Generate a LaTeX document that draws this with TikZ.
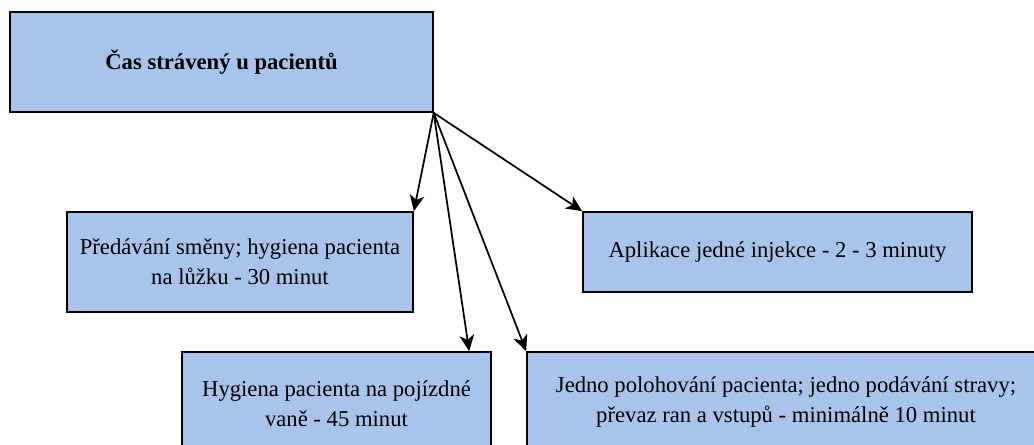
\documentclass[tikz,border=0pt]{standalone}
\usepackage{fontspec}
\setmainfont{Liberation Serif}
\usetikzlibrary{arrows.meta}
\definecolor{boxblue}{RGB}{169,196,234}
\tikzset{
  box/.style={draw=black, line width=1.3pt, fill=boxblue, align=center,
    inner sep=0pt, font=\fontsize{17}{22.5}\selectfont},
  link/.style={-{Stealth[length=12pt,width=11pt,inset=3.5pt]}, line width=1.3pt}
}

\begin{document}
\begin{tikzpicture}[x=0.75pt,y=-0.75pt]
			\path[use as bounding box, clip] (0,0) rectangle (1034,445);
			
			% top box
			\node[box, minimum width=317pt, minimum height=75pt] (cas) at (221.5,62)
				{\textbf{Čas strávený u pacientů}};
			
			% the four activities
			\node[box, minimum width=259.5pt, minimum height=75pt] (predavani) at (240,262)
				{Předávání směny; hygiena pacienta\\na lůžku - 30 minut};
			\node[box, minimum width=291.75pt, minimum height=60pt] (injekce) at (777.5,252)
				{Aplikace jedné injekce - 2 - 3 minuty};
			\node[box, minimum width=231.75pt, minimum height=78pt] (hygiena) at (336.5,404)
				{Hygiena pacienta na pojízdné\\vaně - 45 minut};
			\node[box, minimum width=388.5pt, minimum height=75pt] (polohovani) at (786,402)
				{Jedno polohování pacienta; jedno podávání stravy;\\převaz ran a vstupů - minimálně 10 minut};
			
			% arrows all start at the corner of the top box
			\draw[link] (cas.south east) -- (predavani.north east);
			\draw[link] (cas.south east) -- ([xshift=-17pt]hygiena.north east);
			\draw[link] (cas.south east) -- (polohovani.north west);
			\draw[link] (cas.south east) -- (injekce.north west);
		\end{tikzpicture}
\end{document}
